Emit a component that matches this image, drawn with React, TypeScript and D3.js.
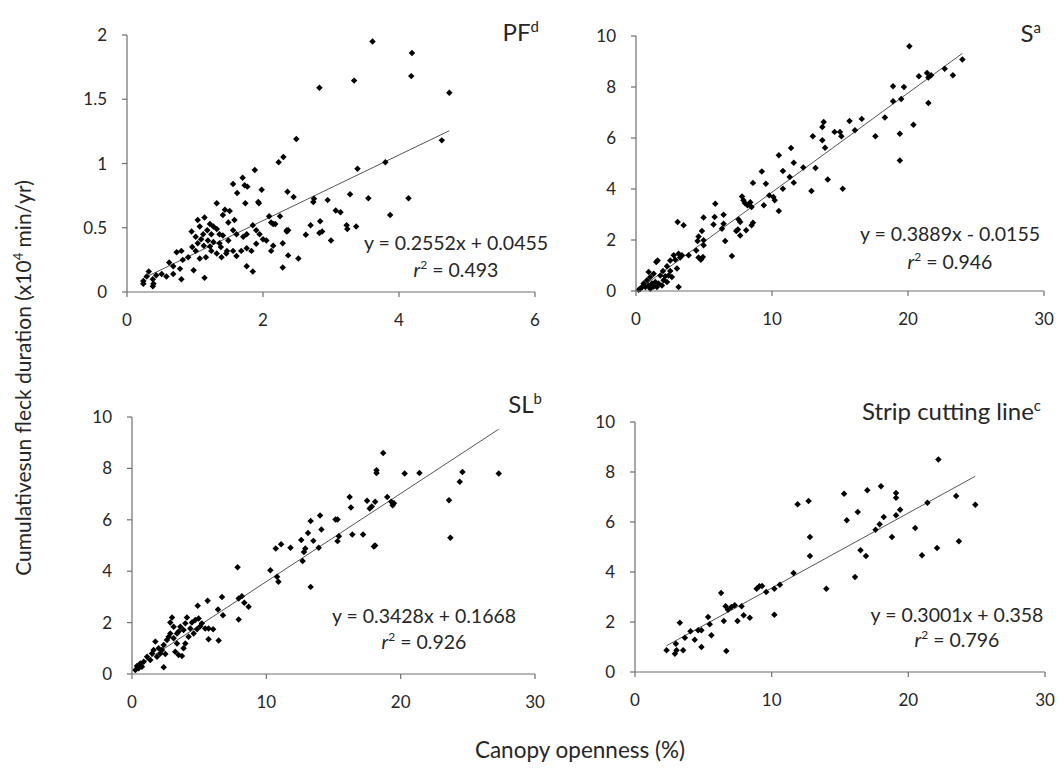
import React from 'react';
import * as d3 from 'd3';

// point data: [canopy openness %, cumulative sunfleck duration x10^4 min/yr]
const pfPoints: [number, number][] = [
  [3.61, 1.95], [4.19, 1.86], [4.18, 1.68], [3.34, 1.645], [2.83, 1.59], [4.74, 1.55], [4.63, 1.18],
  [2.49, 1.19], [2.3, 1.05], [2.23, 1.01], [1.88, 0.95], [3.39, 0.96], [3.8, 1.01], [4.14, 0.73],
  [3.55, 0.73], [3.28, 0.76], [2.95, 0.715], [2.75, 0.725], [2.74, 0.7], [2.36, 0.78], [2.45, 0.74],
  [3.87, 0.6], [3.07, 0.635], [3.14, 0.62], [3.23, 0.52], [3.37, 0.51], [3.24, 0.49], [2.84, 0.55],
  [2.7, 0.52], [2.63, 0.445], [2.83, 0.46], [2.87, 0.47], [3.0, 0.4], [2.35, 0.48], [2.37, 0.48],
  [2.29, 0.38], [2.37, 0.285], [2.52, 0.26], [2.29, 0.19], [2.25, 0.59], [2.15, 0.53], [2.09, 0.59],
  [2.18, 0.53], [1.98, 0.795], [1.93, 0.7], [1.74, 0.69], [1.7, 0.89], [1.73, 0.83], [1.56, 0.84],
  [1.62, 0.77], [1.77, 0.82], [1.32, 0.69], [1.44, 0.64], [1.51, 0.63], [1.41, 0.6], [1.04, 0.56],
  [1.14, 0.58], [1.22, 0.53], [1.32, 0.49], [0.95, 0.47], [1.01, 0.43], [1.09, 0.41], [1.19, 0.4],
  [1.27, 0.39], [1.36, 0.38], [1.49, 0.4], [1.56, 0.48], [1.61, 0.45], [1.71, 0.43], [1.76, 0.45],
  [1.85, 0.52], [1.9, 0.48], [1.95, 0.45], [2.0, 0.41], [2.05, 0.4], [2.15, 0.36], [2.12, 0.32],
  [1.9, 0.375], [1.83, 0.32], [1.76, 0.34], [1.68, 0.32], [1.61, 0.28], [1.56, 0.32], [1.76, 0.2],
  [1.85, 0.16], [1.46, 0.3], [1.39, 0.27], [1.32, 0.3], [1.24, 0.32], [1.16, 0.27], [1.07, 0.26],
  [1.01, 0.32], [0.98, 0.17], [1.14, 0.11], [0.9, 0.27], [0.82, 0.25], [0.78, 0.18], [0.8, 0.1],
  [0.73, 0.31], [0.8, 0.32], [0.68, 0.2], [0.62, 0.23], [0.68, 0.14], [0.58, 0.12], [0.51, 0.14],
  [0.43, 0.13], [0.38, 0.1], [0.32, 0.16], [0.29, 0.12], [0.24, 0.085], [0.24, 0.065], [0.38, 0.045],
  [0.39, 0.065], [1.07, 0.51], [1.12, 0.45], [1.18, 0.48], [1.24, 0.45], [1.27, 0.51], [1.36, 0.45],
  [1.04, 0.38], [0.96, 0.35], [1.13, 0.36], [1.22, 0.355], [1.41, 0.44], [1.49, 0.54], [1.58, 0.56],
  [1.94, 0.69], [2.12, 0.54], [2.35, 0.47], [1.38, 0.35], [1.47, 0.32],
];

const sPoints: [number, number][] = [
  [20.1, 9.6], [24.0, 9.08], [22.7, 8.72], [23.3, 8.46], [20.8, 8.42], [21.4, 8.55], [21.5, 8.37],
  [21.7, 8.46], [18.9, 8.03], [19.7, 8.0], [18.9, 7.44], [19.5, 7.53], [21.5, 7.37], [20.4, 6.52],
  [18.3, 6.8], [19.4, 6.17], [19.4, 5.12], [17.6, 6.07], [16.6, 6.75], [15.7, 6.67], [16.1, 6.3],
  [15.0, 6.24], [15.1, 6.07], [14.6, 6.24], [13.8, 6.63], [13.7, 6.43], [13.0, 6.07], [13.7, 5.91],
  [13.9, 5.62], [13.2, 4.82], [12.3, 4.84], [14.1, 4.37], [15.2, 4.01], [12.9, 3.92], [11.4, 5.61],
  [10.5, 5.32], [11.6, 5.03], [10.8, 4.71], [11.3, 4.47], [11.6, 4.25], [10.8, 4.01], [9.25, 4.69],
  [9.55, 4.21], [8.6, 4.24], [9.8, 3.75], [10.1, 3.69], [10.2, 3.56], [9.4, 3.36], [10.5, 3.14],
  [7.8, 3.71], [7.9, 3.56], [8.0, 3.45], [8.4, 3.48], [8.5, 3.29], [8.2, 3.36], [5.83, 3.42],
  [6.44, 2.99], [5.78, 2.9], [4.97, 2.88], [5.7, 2.61], [6.44, 2.64], [6.32, 2.44], [7.54, 2.8],
  [7.66, 2.71], [7.49, 2.41], [7.37, 2.35], [7.66, 2.18], [8.1, 2.38], [8.5, 2.58], [8.6, 2.68],
  [6.56, 1.96], [7.05, 1.37], [4.85, 2.35], [4.6, 2.14], [4.53, 1.96], [4.97, 1.99], [4.97, 1.79],
  [4.43, 1.59], [4.6, 1.31], [4.92, 1.33], [4.77, 1.23], [3.87, 1.4], [3.06, 2.71], [3.5, 2.58],
  [3.13, 1.46], [3.38, 1.4], [2.77, 1.4], [2.89, 1.23], [3.25, 1.31], [2.52, 1.2], [3.01, 0.88],
  [3.13, 0.16], [2.28, 0.97], [2.52, 0.78], [1.98, 0.78], [1.49, 1.14], [1.59, 1.2], [0.93, 0.75],
  [1.3, 0.68], [1.79, 0.61], [2.15, 0.58], [2.4, 0.61], [2.64, 0.55], [1.05, 0.55], [0.81, 0.42],
  [0.56, 0.29], [0.44, 0.16], [0.32, 0.09], [0.69, 0.16], [0.93, 0.22], [1.18, 0.29], [1.42, 0.35],
  [1.66, 0.29], [1.91, 0.22], [1.54, 0.16], [1.05, 0.09], [1.3, 0.18], [0.2, 0.05], [2.03, 0.42],
  [2.28, 0.35],
];

const slPoints: [number, number][] = [
  [18.7, 8.6], [18.2, 7.93], [18.2, 7.82], [20.3, 7.8], [21.4, 7.82], [24.6, 7.86], [27.3, 7.8],
  [24.4, 7.48], [23.6, 6.76], [23.7, 5.3], [16.2, 6.89], [16.3, 6.48], [17.5, 6.74], [18.1, 6.7],
  [17.7, 6.44], [17.85, 6.52], [19.0, 6.89], [19.3, 6.7], [19.4, 6.57], [19.5, 6.64], [18.1, 5.0],
  [18.0, 4.96], [16.4, 5.43], [17.2, 5.43], [15.3, 6.01], [15.15, 6.01], [15.4, 5.36], [15.3, 5.17],
  [14.0, 6.17], [14.1, 5.62], [13.3, 5.95], [13.1, 5.49], [12.6, 5.21], [13.5, 5.18], [13.9, 4.91],
  [12.9, 4.88], [12.8, 4.75], [12.7, 4.4], [11.8, 4.91], [11.1, 5.05], [10.7, 4.88], [13.3, 3.39],
  [10.3, 4.04], [10.8, 3.78], [10.9, 3.59], [7.86, 4.15], [8.18, 3.03], [7.94, 2.94], [8.36, 2.77],
  [8.68, 2.62], [7.94, 2.12], [6.7, 3.0], [6.4, 2.51], [6.77, 2.29], [5.63, 2.85], [4.89, 2.66],
  [6.45, 1.3], [5.7, 1.35], [6.04, 1.74], [5.45, 1.77], [5.2, 1.97], [4.96, 2.16], [5.08, 1.86],
  [4.71, 2.1], [4.46, 2.0], [4.09, 2.2], [3.97, 1.97], [4.34, 1.77], [4.59, 1.58], [4.21, 1.45],
  [3.84, 1.71], [3.47, 1.65], [3.6, 1.84], [2.98, 2.2], [2.85, 2.0], [3.1, 1.39], [3.35, 1.19],
  [3.84, 1.0], [3.72, 0.7], [2.73, 1.45], [2.6, 1.32], [2.36, 1.13], [2.23, 0.93], [1.74, 1.26],
  [1.98, 1.0], [1.61, 0.93], [1.49, 0.8], [1.12, 0.67], [0.87, 0.48], [0.62, 0.41], [0.37, 0.31],
  [0.25, 0.16], [0.5, 0.22], [0.74, 0.28], [1.36, 0.54], [1.86, 0.67], [2.36, 0.26], [2.11, 0.8],
  [2.48, 0.78], [3.22, 0.87], [3.47, 0.74], [3.97, 1.19], [4.84, 1.74], [5.7, 1.77], [3.1, 1.84],
  [3.35, 1.58], [2.85, 1.58],
];

const scPoints: [number, number][] = [
  [22.2, 8.5], [17.0, 7.27], [18.0, 7.43], [19.1, 7.16], [19.1, 6.97], [15.3, 7.13], [23.5, 7.04],
  [21.4, 6.77], [24.9, 6.69], [11.9, 6.71], [12.7, 6.84], [19.4, 6.49], [19.1, 6.27], [18.2, 6.2],
  [16.3, 6.4], [15.5, 6.07], [17.9, 5.91], [17.6, 5.69], [20.5, 5.76], [18.8, 5.4], [12.8, 5.4],
  [23.7, 5.23], [22.1, 4.96], [21.0, 4.67], [16.5, 4.87], [16.9, 4.64], [12.8, 4.64], [11.6, 3.96],
  [16.1, 3.8], [14.0, 3.33], [10.6, 3.49], [10.2, 3.33], [9.6, 3.2], [9.1, 3.43], [9.3, 3.44],
  [8.9, 3.33], [10.2, 2.29], [6.3, 3.16], [6.63, 2.63], [7.05, 2.6], [7.3, 2.67], [7.8, 2.63],
  [6.8, 2.49], [7.95, 2.27], [8.4, 2.17], [7.5, 2.04], [6.5, 2.04], [5.35, 2.2], [5.47, 1.91],
  [4.86, 1.67], [4.62, 1.67], [4.06, 1.63], [3.28, 1.97], [3.65, 1.37], [4.37, 1.29], [4.86, 1.0],
  [5.59, 1.47], [2.99, 1.13], [3.52, 0.87], [3.04, 0.87], [2.92, 0.73], [2.31, 0.87], [6.68, 0.84],
];

const pfXTicks = [0, 2, 4, 6];
const pfYTicks = [0, 0.5, 1, 1.5, 2];
const pctXTicks = [0, 10, 20, 30];
const durYTicks = [0, 2, 4, 6, 8, 10];

const panelNames = ['PF', 'S', 'SL', 'Strip cutting line'];
const panelSups = ['d', 'a', 'b', 'c'];
const slopes = [0.2552, 0.3889, 0.3428, 0.3001];
const intercepts = [0.0455, -0.0155, 0.1668, 0.358];
const equations = ['y = 0.2552x + 0.0455', 'y = 0.3889x - 0.0155', 'y = 0.3428x + 0.1668', 'y = 0.3001x + 0.358'];
const r2Values = ['0.493', '0.946', '0.926', '0.796'];

const pointSets = [pfPoints, sPoints, slPoints, scPoints];
const xDomains: [number, number][] = [[0, 6], [0, 30], [0, 30], [0, 30]];
const yDomains: [number, number][] = [[0, 2], [0, 10], [0, 10], [0, 10]];
const xTickSets = [pfXTicks, pctXTicks, pctXTicks, pctXTicks];
const yTickSets = [pfYTicks, durYTicks, durYTicks, durYTicks];

// pixel frames of the four plots
const frames = [
  { x0: 127, x1: 535, y0: 292, y1: 35, titleX: 539, titleY: 41, eqX: 456, eqY: 250, r2Y: 277 },
  { x0: 636, x1: 1044, y0: 291, y1: 36, titleX: 1041, titleY: 42, eqX: 950, eqY: 241, r2Y: 269 },
  { x0: 132, x1: 535, y0: 674, y1: 417, titleX: 542, titleY: 413, eqX: 424, eqY: 623, r2Y: 649 },
  { x0: 635, x1: 1045, y0: 672, y1: 422, titleX: 1041, titleY: 420, eqX: 957, eqY: 622, r2Y: 647 },
];

const FONT = 'Lato, "Open Sans", sans-serif';
const AXIS = '#6e6e6e';
const TEXT = '#262626';

const diamond = d3.symbol(d3.symbolSquare, 21)() as string;

function Panel({ i }: { i: number }) {
  const f = frames[i];
  const x = d3.scaleLinear().domain(xDomains[i]).range([f.x0, f.x1]);
  const y = d3.scaleLinear().domain(yDomains[i]).range([f.y0, f.y1]);
  const pts = pointSets[i];
  const [xmin, xmax] = d3.extent(pts, (d) => d[0]) as [number, number];
  const fit = d3.line<number>()
    .x((v) => x(v))
    .y((v) => y(slopes[i] * v + intercepts[i]));
  const fmt = (v: number) => String(v);

  return (
    <g>
      <path d={fit([xmin, xmax]) || ''} fill="none" stroke="#555" strokeWidth={1} />
      {pts.map((d, k) => (
        <path key={k} d={diamond} transform={`translate(${x(d[0])},${y(d[1])}) rotate(45)`} fill="#000" />
      ))}
      {/* axes */}
      <line x1={f.x0} x2={f.x1} y1={f.y0} y2={f.y0} stroke={AXIS} strokeWidth={1.2} />
      <line x1={f.x0} x2={f.x0} y1={f.y0} y2={f.y1} stroke={AXIS} strokeWidth={1.2} />
      {xTickSets[i].map((t) => (
        <g key={'x' + t}>
          <line x1={x(t)} x2={x(t)} y1={f.y0} y2={f.y0 + 5} stroke={AXIS} strokeWidth={1.2} />
          <text x={x(t)} y={f.y0 + 34} textAnchor="middle" fontSize={17} fill={TEXT} fontFamily={FONT}>
            {fmt(t)}
          </text>
        </g>
      ))}
      {yTickSets[i].map((t) => (
        <g key={'y' + t}>
          <line x1={f.x0 - 5} x2={f.x0} y1={y(t)} y2={y(t)} stroke={AXIS} strokeWidth={1.2} />
          <text x={f.x0 - 20} y={y(t) + 6} textAnchor="end" fontSize={17} fill={TEXT} fontFamily={FONT}>
            {fmt(t)}
          </text>
        </g>
      ))}
      <text x={f.titleX} y={f.titleY} textAnchor="end" fontSize={24} fill={TEXT} fontFamily={FONT}>
        {panelNames[i]}
        <tspan fontSize={15} dy={-9}>{panelSups[i]}</tspan>
      </text>
      <text x={f.eqX} y={f.eqY} textAnchor="middle" fontSize={19.5} fill={TEXT} fontFamily={FONT}>
        {equations[i]}
      </text>
      <text x={f.eqX} y={f.r2Y} textAnchor="middle" fontSize={19.5} fill={TEXT} fontFamily={FONT}>
        <tspan fontStyle="italic">r</tspan>
        <tspan fontSize={12} dy={-8}>2</tspan>
        <tspan dy={8}>{' = ' + r2Values[i]}</tspan>
      </text>
    </g>
  );
}

export default function App() {
  return (
    <svg width={1064} height={769} style={{ position: 'absolute', left: 0, top: 0, background: '#fff' }}>
      <rect width={1064} height={769} fill="#fff" />
      {frames.map((_, i) => (
        <Panel key={i} i={i} />
      ))}
      <text
        transform="translate(31,378) rotate(-90)"
        textAnchor="middle"
        fontSize={21}
        fill={TEXT}
        fontFamily={FONT}
      >
        Cumulativesun fleck duration (x10
        <tspan fontSize={13} dy={-8}>4</tspan>
        <tspan dy={8}> min/yr)</tspan>
      </text>
      <text x={580} y={758} textAnchor="middle" fontSize={22.5} fill={TEXT} fontFamily={FONT}>
        Canopy openness (%)
      </text>
    </svg>
  );
}
